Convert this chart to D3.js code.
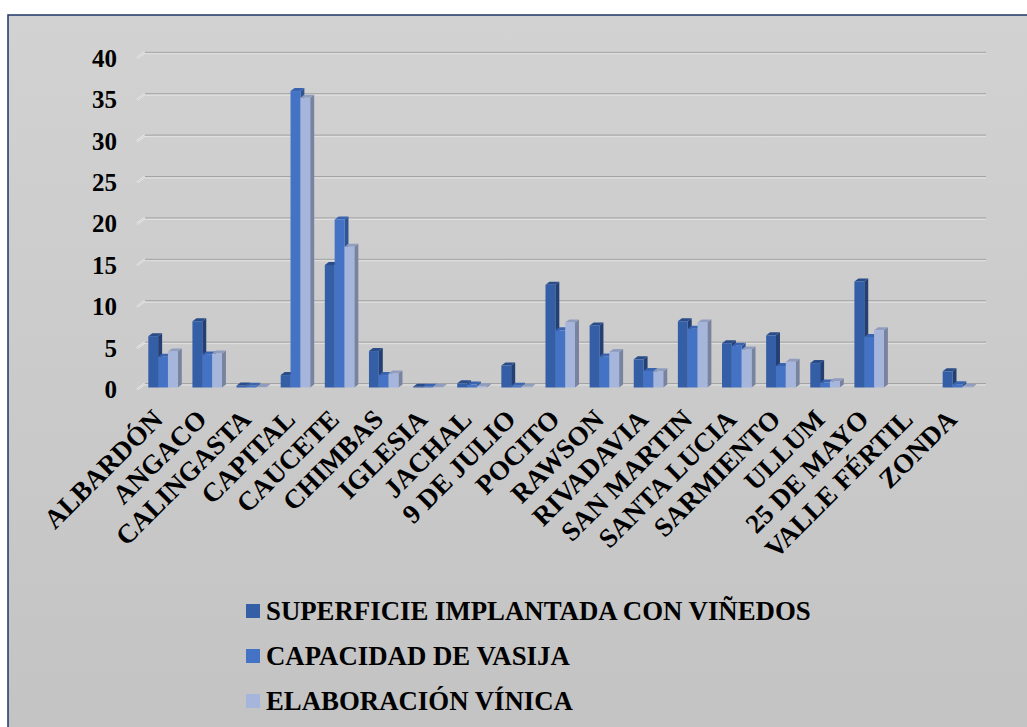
<!DOCTYPE html>
<html><head><meta charset="utf-8">
<script src="https://cdn.jsdelivr.net/npm/d3@7"></script>
<style>
html,body{margin:0;padding:0;background:#fff;}
svg{display:block;}
text{font-family:"Liberation Serif","Times New Roman",serif;font-weight:bold;fill:#000;}
</style></head>
<body>
<svg id="chart" width="1027" height="727"></svg>
<script>
const categories = ["ALBARDÓN","ANGACO","CALINGASTA","CAPITAL","CAUCETE","CHIMBAS","IGLESIA","JACHAL","9 DE JULIO","POCITO","RAWSON","RIVADAVIA","SAN MARTIN","SANTA LUCIA","SARMIENTO","ULLUM","25 DE MAYO","VALLE FÉRTIL","ZONDA"];
const seriesNames = ["SUPERFICIE IMPLANTADA CON VIÑEDOS","CAPACIDAD DE VASIJA","ELABORACIÓN VÍNICA"];
const superficie  = [6.2, 8.0, 0.25, 1.5, 14.8, 4.4, 0.1, 0.5, 2.65, 12.4, 7.5, 3.4, 8.0, 5.35, 6.3, 2.95, 12.8, 0, 1.95];
const capacidad   = [3.7, 4.0, 0.2, 35.8, 20.3, 1.5, 0.1, 0.35, 0.2, 6.9, 3.75, 2.0, 7.1, 5.05, 2.6, 0.6, 6.1, 0, 0.4];
const elaboracion = [4.35, 4.1, 0.05, 35.0, 17.0, 1.7, 0.05, 0.15, 0.1, 7.85, 4.3, 1.95, 7.85, 4.6, 3.1, 0.75, 6.9, 0, 0.1];
const yTicks = [0,5,10,15,20,25,30,35,40];

const seriesValues = [superficie, capacidad, elaboracion];
const front = ["#345ea6","#4472c4","#a6b5dc"];
const side  = ["#233f73","#2f5597","#77839f"];
const topc  = ["#2a4d8a","#3a64b0","#909dbf"];

const svg = d3.select("#chart");
const defs = svg.append("defs");
const grad = defs.append("linearGradient").attr("id","bg").attr("x1",0).attr("y1",0).attr("x2",0).attr("y2",1);
grad.append("stop").attr("offset","0%").attr("stop-color","#d2d2d2");
grad.append("stop").attr("offset","100%").attr("stop-color","#c3c3c3");

svg.append("rect").attr("x",8).attr("y",15).attr("width",1030).attr("height",730)
  .attr("fill","url(#bg)").attr("stroke","#1f3468").attr("stroke-width",1.5);

const x = d3.scaleBand().domain(categories).range([145.2, 983.7]).padding(0);
const xs = d3.scaleBand().domain(seriesNames).range([3.1, 32.6]).padding(0);
const y = d3.scaleLinear().domain([0,40]).range([387.5, 56.3]);
const dx = 4, dy = 3, back = 4;

// gridlines
const g = svg.append("g");
yTicks.forEach(t => {
  const yb = y(t) - back;
  g.append("line").attr("x1",137).attr("y1",yb+6).attr("x2",145).attr("y2",yb)
    .attr("stroke","#f0f0f0").attr("stroke-width",2);
  g.append("line").attr("x1",137).attr("y1",yb+6).attr("x2",145).attr("y2",yb)
    .attr("stroke","#b0b0b0").attr("stroke-width",0.6);
  g.append("line").attr("x1",145).attr("x2",986).attr("y1",yb).attr("y2",yb)
    .attr("stroke","#a3a3a3").attr("stroke-width",1);
  g.append("line").attr("x1",145).attr("x2",986).attr("y1",yb+1.5).attr("y2",yb+1.5)
    .attr("stroke","#e2e2e2").attr("stroke-width",1);
});

// y axis labels
svg.append("g").selectAll("text").data(yTicks).join("text")
  .attr("x",117).attr("y",d => y(d)+2)
  .attr("text-anchor","end").attr("dominant-baseline","central")
  .style("font-size","25px").text(d => d);

// bars
const bars = svg.append("g");
categories.forEach((c,i) => {
  seriesNames.forEach((s,k) => {
    const v = seriesValues[k][i];
    if (!v) return;
    const x0 = x(c) + xs(s), x1 = x0 + xs.bandwidth();
    const yt = y(v), yb = y(0);
    bars.append("polygon")
      .attr("points",[[x1,yt],[x1+dx,yt-dy],[x1+dx,yb-dy],[x1,yb]].map(p=>p.join(",")).join(" "))
      .attr("fill",side[k]);
    bars.append("polygon")
      .attr("points",[[x0,yt],[x0+dx,yt-dy],[x1+dx,yt-dy],[x1,yt]].map(p=>p.join(",")).join(" "))
      .attr("fill",topc[k]);
    bars.append("rect").attr("x",x0).attr("y",yt).attr("width",x1-x0).attr("height",yb-yt)
      .attr("fill",front[k]);
  });
});

// x labels
svg.append("g").selectAll("text").data(categories).join("text")
  .attr("transform",d => `translate(${x(d)+x.bandwidth()/2-3},421) rotate(-45)`)
  .attr("text-anchor","end")
  .style("font-size","27px").text(d => d);

// legend
const lg = svg.append("g");
seriesNames.forEach((s,k) => {
  const ly = 611 + k*45;
  lg.append("rect").attr("x",246).attr("y",ly-7).attr("width",14).attr("height",14).attr("fill",front[k]);
  lg.append("text").attr("x",266).attr("y",ly+9).style("font-size","26.8px").text(s);
});
</script>
</body></html>
